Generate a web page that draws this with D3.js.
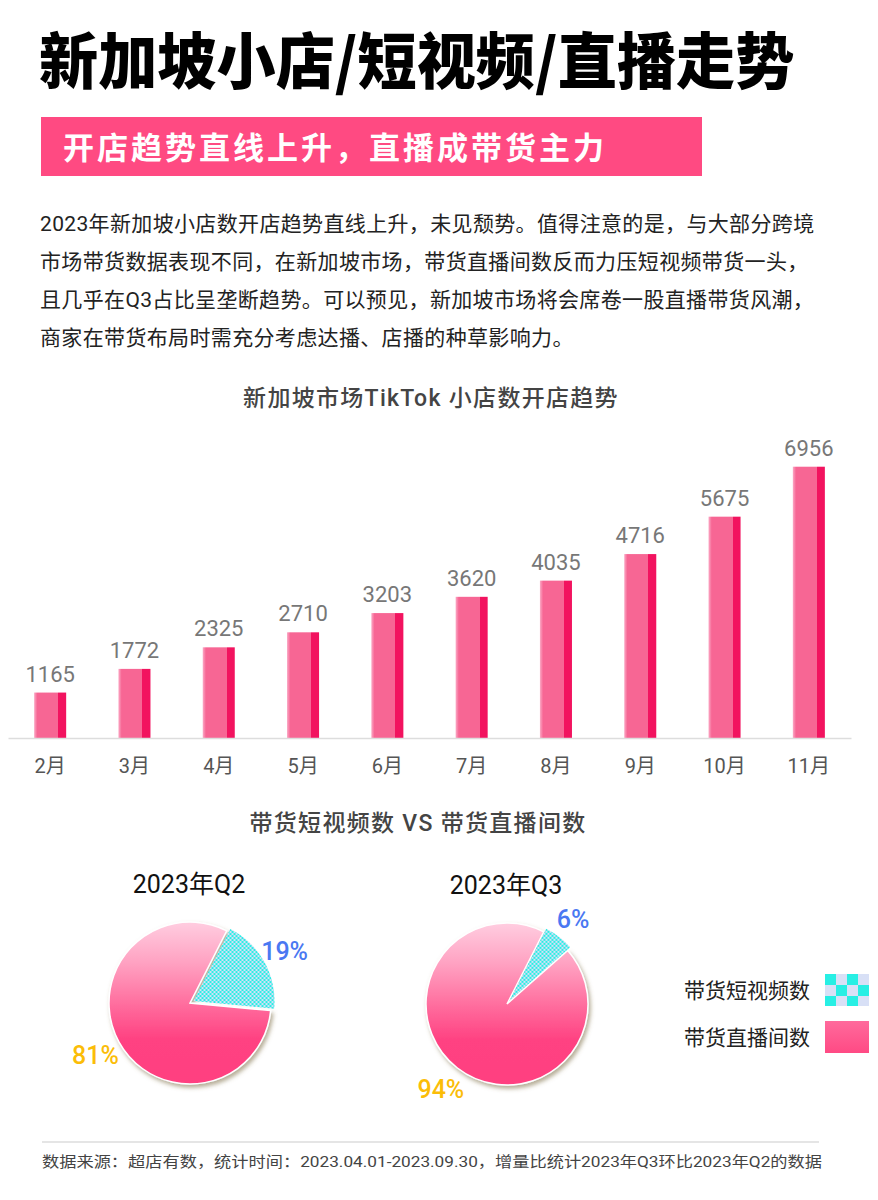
<!DOCTYPE html>
<html><head><meta charset="utf-8">
<script src="https://cdn.jsdelivr.net/npm/d3@7/dist/d3.min.js"></script>
<style>
body{margin:0;background:#fff;}
svg{display:block;}
text{font-family:Roboto,"Noto Sans CJK SC",sans-serif;}
</style></head>
<body><div id="chart"></div>
<script>
// ---------- data ----------
const title = "新加坡小店/短视频/直播走势";
const subtitle = "开店趋势直线上升，直播成带货主力";
const paragraph = [
  "2023年新加坡小店数开店趋势直线上升，未见颓势。值得注意的是，与大部分跨境",
  "市场带货数据表现不同，在新加坡市场，带货直播间数反而力压短视频带货一头，",
  "且几乎在Q3占比呈垄断趋势。可以预见，新加坡市场将会席卷一股直播带货风潮，",
  "商家在带货布局时需充分考虑达播、店播的种草影响力。"
];
const barTitle = "新加坡市场TikTok 小店数开店趋势";
const months = ["2月","3月","4月","5月","6月","7月","8月","9月","10月","11月"];
const shopCounts = [1165,1772,2325,2710,3203,3620,4035,4716,5675,6956];
const pieTitle = "带货短视频数 VS 带货直播间数";
const quarters = ["2023年Q2","2023年Q3"];
const seriesNames = ["带货短视频数","带货直播间数"];
const shortVideoShare = [19,6];
const liveShare = [81,94];
const footer = "数据来源：超店有数，统计时间：2023.04.01-2023.09.30，增量比统计2023年Q3环比2023年Q2的数据";

// ---------- svg ----------
const W=878,H=1200;
const svg=d3.select("#chart").append("svg").attr("width",W).attr("height",H);
const defs=svg.append("defs");

// bar gradient
const bg=defs.append("linearGradient").attr("id","barGrad").attr("x1",0).attr("x2",1).attr("y1",0).attr("y2",0);
[[0,"#fbaac6"],[0.1,"#f76694"],[0.75,"#f76694"],[0.75,"#f2135f"],[1,"#f2135f"]].forEach(s=>bg.append("stop").attr("offset",s[0]).attr("stop-color",s[1]));

// pie gradient
const R=81;
const pg=defs.append("linearGradient").attr("id","pieGrad").attr("gradientUnits","userSpaceOnUse")
  .attr("x1",0).attr("x2",0).attr("y1",-R).attr("y2",R);
[[0,"#ffcde0"],[0.25,"#ffa2c2"],[0.5,"#ff6f9f"],[0.72,"#ff4282"],[1,"#ff4080"]].forEach(s=>pg.append("stop").attr("offset",s[0]).attr("stop-color",s[1]));

const lg=defs.append("linearGradient").attr("id","legGrad").attr("x1",0).attr("x2",0).attr("y1",0).attr("y2",1);
[[0,"#ff6a9c"],[1,"#ff4a84"]].forEach(s=>lg.append("stop").attr("offset",s[0]).attr("stop-color",s[1]));

// checker patterns
function checker(id,size,x,y){
  const p=defs.append("pattern").attr("id",id).attr("patternUnits","userSpaceOnUse")
    .attr("width",size*2).attr("height",size*2).attr("x",x).attr("y",y);
  p.append("rect").attr("width",size*2).attr("height",size*2).attr("fill","#d8e0f6");
  p.append("rect").attr("width",size).attr("height",size).attr("fill","#27efe4");
  p.append("rect").attr("x",size).attr("y",size).attr("width",size).attr("height",size).attr("fill","#27efe4");
}
checker("chkSmall",2,0,0);
checker("chkBig",11,825,974);

const f=defs.append("filter").attr("id","shadow").attr("x","-20%").attr("y","-20%").attr("width","150%").attr("height","150%");
f.append("feDropShadow").attr("dx",2).attr("dy",3).attr("stdDeviation",2).attr("flood-color","#7a6a40").attr("flood-opacity",0.55);

// ---------- header ----------
svg.append("text").text(title)
  .attr("transform","translate(39,84) scale(1.02,1.06)")
  .attr("font-size",58).attr("font-weight",900).attr("fill","#000")
  .style("font-family","'Noto Sans CJK SC',sans-serif");

svg.append("rect").attr("x",41).attr("y",117).attr("width",661).attr("height",59).attr("fill","#ff4a82");
svg.append("text").text(subtitle).attr("x",63).attr("y",159)
  .attr("font-size",31).attr("font-weight",700).attr("fill","#fff").attr("letter-spacing",3)
  .style("font-family","'Noto Sans CJK SC',sans-serif");

svg.append("g").selectAll("text").data(paragraph).join("text")
  .attr("x",40).attr("y",(d,i)=>231+i*38).text(d=>d)
  .attr("font-size",21).attr("fill","#222").attr("letter-spacing",0.35);

// ---------- bar chart ----------
svg.append("text").text(barTitle).attr("x",431).attr("y",406).attr("text-anchor","middle")
  .attr("font-size",23).attr("font-weight",500).attr("fill","#444").attr("letter-spacing",1.3);

const x=d3.scaleBand().domain(months).range([8,851]).paddingInner(0.62).paddingOuter(0.31);
const y=d3.scaleLinear().domain([0,7000]).range([738,465]);

const bars=svg.append("g");
bars.selectAll("rect").data(shopCounts).join("rect")
  .attr("x",(d,i)=>x(months[i])).attr("width",x.bandwidth())
  .attr("y",d=>y(d)).attr("height",d=>y(0)-y(d)).attr("fill","url(#barGrad)");
bars.selectAll("text").data(shopCounts).join("text")
  .attr("x",(d,i)=>x(months[i])+x.bandwidth()/2).attr("y",d=>y(d)-11)
  .attr("text-anchor","middle").attr("font-size",22).attr("fill","#777").text(d=>d);

const ax=svg.append("g").attr("transform",`translate(0,${y(0)})`)
  .call(d3.axisBottom(x).tickSize(0).tickPadding(21));
ax.select(".domain").attr("stroke","#ddd").attr("stroke-width",1.5);
ax.selectAll("text").attr("font-size",20).attr("fill","#555").style("font-family","Roboto,'Noto Sans CJK SC',sans-serif");

// ---------- pies ----------
svg.append("text").text(pieTitle).attr("x",418).attr("y",831).attr("text-anchor","middle")
  .attr("font-size",23).attr("font-weight",500).attr("fill","#444").attr("letter-spacing",1.3);

const centers=[[190,1003],[507,1004]];
const pie=d3.pie().sort(null).value(d=>d.v).startAngle(0.471).endAngle(0.471+2*Math.PI);
const arc=d3.arc().innerRadius(0).outerRadius(R);
const labelArc=d3.arc().innerRadius(108).outerRadius(108);
const labelColors=["#4a78f2","#fbbd08"];

quarters.forEach((q,qi)=>{
  const [cx,cy]=centers[qi];
  svg.append("text").text(q).attr("x",cx-1).attr("y",cy-110).attr("text-anchor","middle")
    .attr("font-size",25).attr("fill","#111");
  const data=[{k:0,v:shortVideoShare[qi]},{k:1,v:liveShare[qi]}];
  const arcs=pie(data);
  const g=svg.append("g").attr("transform",`translate(${cx},${cy})`);
  const a1=arcs[1];
  g.append("path").attr("d",arc(a1)).attr("fill","url(#pieGrad)")
    .attr("stroke","#fff").attr("stroke-width",1.5).attr("filter","url(#shadow)");
  const a0=arcs[0];
  const mid=(a0.startAngle+a0.endAngle)/2, off=4;
  g.append("path").attr("d",arc(a0))
    .attr("transform",`translate(${off*Math.sin(mid)},${-off*Math.cos(mid)})`)
    .attr("fill","url(#chkSmall)");
  arcs.forEach((a,i)=>{
    const [lx,ly]=labelArc.centroid(a);
    g.append("text").attr("x",lx).attr("y",ly).attr("dy","0.36em").attr("text-anchor","middle")
      .attr("font-size",25).attr("font-weight",500).attr("fill",labelColors[i]).text(a.data.v+"%");
  });
});

// legend
const leg=svg.append("g");
seriesNames.forEach((n,i)=>{
  const yy=974+i*47;
  leg.append("rect").attr("x",825).attr("y",yy).attr("width",44).attr("height",32)
    .attr("fill",i===0?"url(#chkBig)":"url(#legGrad)");
  leg.append("text").attr("x",810).attr("y",yy+24).attr("text-anchor","end")
    .attr("font-size",21).attr("fill","#222").text(n);
});

// ---------- footer ----------
svg.append("line").attr("x1",42).attr("x2",819).attr("y1",1142).attr("y2",1142).attr("stroke","#ddd").attr("stroke-width",1.5);
svg.append("text").text(footer).attr("x",42).attr("y",1167).attr("font-size",15).attr("fill","#444")
  .attr("textLength",780).attr("lengthAdjust","spacingAndGlyphs");
</script></body></html>
